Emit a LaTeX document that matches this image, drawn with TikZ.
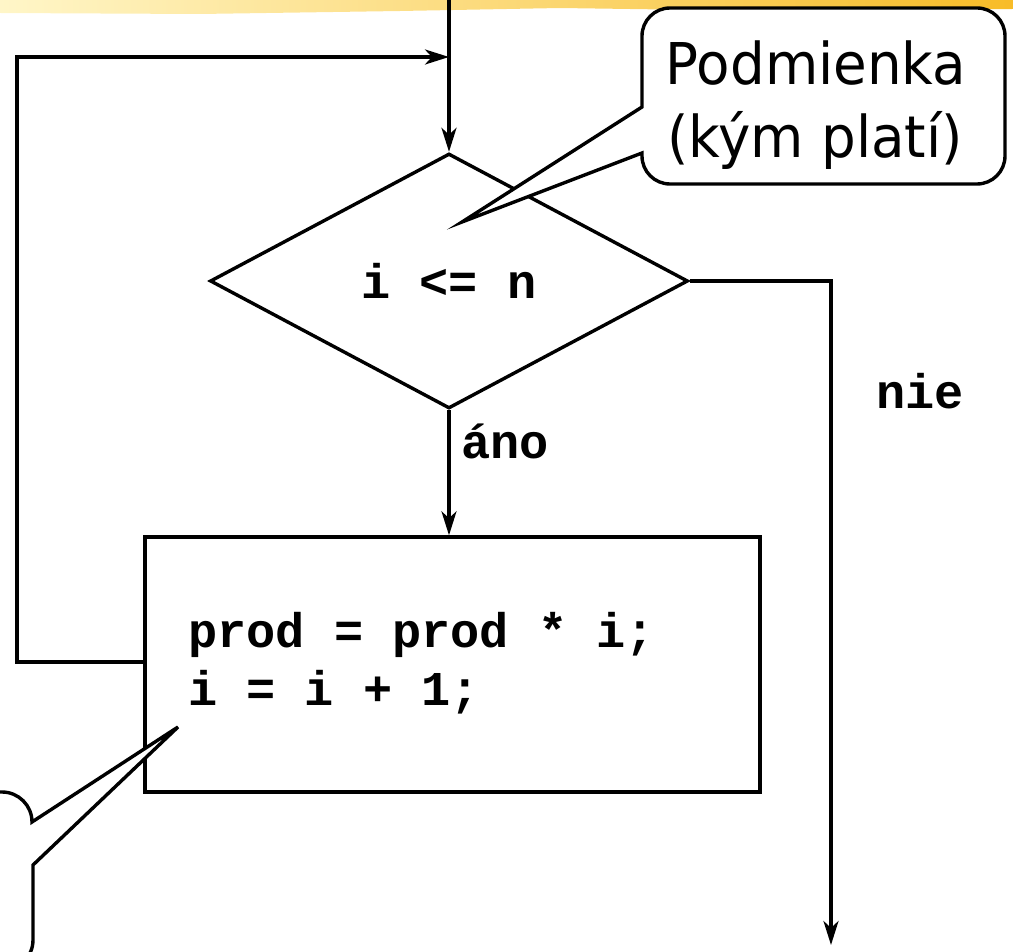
\documentclass[tikz,border=0pt]{standalone}
\usepackage{fontspec}
\setmonofont{Liberation Mono}
\newfontfamily\callfont[FakeStretch=0.95]{DejaVu Sans}
\usetikzlibrary{shapes.geometric,arrows.meta}
\tikzset{
  conn/.style={line width=3.4pt, line join=miter},
  arr/.style={conn, -{Stealth[length=24pt,width=15pt,inset=7pt]}},
  codetxt/.style={inner sep=0pt, font=\fontsize{48.6}{58}\selectfont\ttfamily\bfseries},
  calltxt/.style={inner sep=0pt, font=\fontsize{57.6}{72}\selectfont\callfont},
  callout/.style={line width=3.4pt, fill=white, line join=miter},
  flowbox/.style={draw, line width=3.4pt, minimum width=615pt, minimum height=255pt, inner sep=0pt},
  decision/.style={draw, diamond, line width=3.4pt, minimum width=478pt, minimum height=255pt, inner sep=0pt}
}
\definecolor{hdrA}{RGB}{255,246,200}
\definecolor{hdrB}{RGB}{248,188,40}
\begin{document}
\begin{tikzpicture}[x=1pt,y=-1pt]
\useasboundingbox (0,0) rectangle (1013,952);
\clip (0,0) rectangle (1013,952);
% header strip
\shade[left color=hdrA, right color=hdrB] (0,-2) -- (1013,-2) -- (1013,9) -- (700,10) -- (560,8) -- (400,11) -- (200,14) -- (0,13) -- cycle;
% nodes
\node[decision, codetxt] (cond) at (449,281) {i <= n};
\node[flowbox] (body) at (452.5,664.5) {};
\node[codetxt, anchor=base west] (code1) at (188,647) {prod = prod * i;};
\node[codetxt, anchor=base west] (code2) at (188,705) {i = i + 1;};
\node[codetxt, anchor=base west] (yes) at (461,458) {áno};
\node[codetxt, anchor=base west] (no) at (876,408) {nie};
\coordinate (topin) at (449,0);
\coordinate (loopA) at (17,662);
\coordinate (loopB) at (17,57);
\coordinate (loopC) at (449,57);
\coordinate (exitA) at (831,281);
\coordinate (exitB) at (831,945);
% connectors
\draw[arr] (topin) -- (cond.north);
\draw[arr] (body.west |- loopA) -- (loopA) -- (loopB) -- (loopC);
\draw[arr] (cond.south) -- (cond.south |- body.north);
\draw[arr] (cond.east) -- (exitA) -- (exitB);
% top callout
\draw[callout] (642,153) -- (462,222) -- (642,107) -- (642,36)
  arc[start angle=180,end angle=270,radius=28] -- (977,8)
  arc[start angle=270,end angle=360,radius=28] -- (1005,156)
  arc[start angle=0,end angle=90,radius=28] -- (670,184)
  arc[start angle=90,end angle=180,radius=28] -- cycle;
\node[calltxt, anchor=base] (c1) at (816,85) {Podmienka};
\node[calltxt, anchor=base] (c2) at (815,158) {(kým platí)};
% bottom-left callout
\draw[callout] (32,822) -- (178,727) -- (33,865) -- (33,940)
  arc[start angle=0,end angle=90,radius=30] -- (-40,970) -- (-40,792) -- (2,792)
  arc[start angle=270,end angle=360,radius=30] -- cycle;
\end{tikzpicture}
\end{document}
